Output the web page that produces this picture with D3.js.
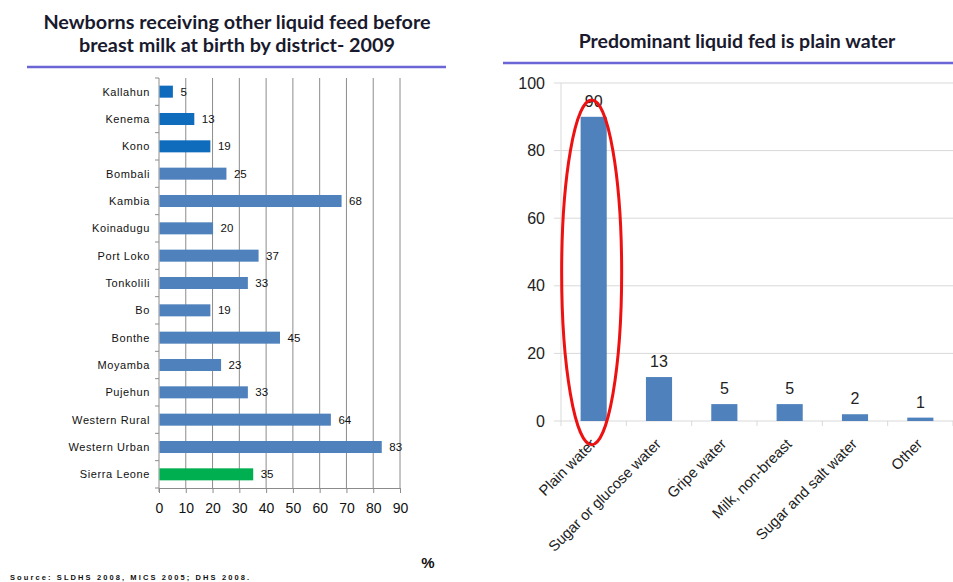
<!DOCTYPE html>
<html>
<head>
<meta charset="utf-8">
<script src="https://cdn.jsdelivr.net/npm/d3@7"></script>
<style>
  body { margin: 0; background: #fff; }
  svg { display: block; }
  .title { font-family: Lato, "Open Sans", sans-serif; font-weight: bold; fill: #1a1a2e; }
  .lbl { font-family: "Liberation Sans", Arial, sans-serif; }
</style>
</head>
<body>
<div id="chart"></div>
<script>
var width = 953, height = 582;

// left chart data
var districts = ["Kallahun", "Kenema", "Kono", "Bombali", "Kambia", "Koinadugu", "Port Loko",
                 "Tonkolili", "Bo", "Bonthe", "Moyamba", "Pujehun", "Western Rural", "Western Urban", "Sierra Leone"];
var districtValues = [5, 13, 19, 25, 68, 20, 37, 33, 19, 45, 23, 33, 64, 83, 35];
var districtGroup = ["east", "east", "east", "other", "other", "other", "other",
                     "other", "other", "other", "other", "other", "other", "other", "national"];
var xTicks = [0, 10, 20, 30, 40, 50, 60, 70, 80, 90];

// right chart data
var liquids = ["Plain water", "Sugar or glucose water", "Gripe water", "Milk, non-breast", "Sugar and salt water", "Other"];
var liquidValues = [90, 13, 5, 5, 2, 1];
var yTicks = [0, 20, 40, 60, 80, 100];

var groupColor = { east: "#0f6cbd", other: "#4f81bd", national: "#00b050" };

var svg = d3.select("#chart").append("svg")
    .attr("width", width)
    .attr("height", height);

//
// left chart
var left = svg.append("g");

left.append("text").attr("class", "title")
    .attr("x", 237).attr("y", 29)
    .attr("text-anchor", "middle").style("font-size", "19.8px")
    .text("Newborns receiving other liquid feed before");
left.append("text").attr("class", "title")
    .attr("x", 237).attr("y", 52)
    .attr("text-anchor", "middle").style("font-size", "19.8px")
    .text("breast milk at birth by district- 2009");
left.append("line")
    .attr("x1", 27).attr("x2", 446).attr("y1", 67).attr("y2", 67)
    .attr("stroke", "#6b66d6").attr("stroke-width", 2.5);

var xScale = d3.scaleLinear().domain([0, 90]).range([159, 400]);
var yBand = d3.scaleBand().domain(districts).range([78, 488]).paddingInner(0.56).paddingOuter(0.28);

// gridlines
left.selectAll(".vgrid")
  .data(xTicks.slice(1))
  .enter().append("line")
    .attr("x1", function(d) { return xScale(d); })
    .attr("x2", function(d) { return xScale(d); })
    .attr("y1", 78).attr("y2", 488)
    .attr("stroke", "#8c8c8c").attr("stroke-width", 1);

// bottom axis
var xAxis = left.append("g")
    .attr("transform", "translate(0,488)")
    .call(d3.axisBottom(xScale).tickValues(xTicks).tickSize(5).tickSizeOuter(0));
xAxis.select(".domain").attr("stroke", "#8c8c8c");
xAxis.selectAll(".tick line").attr("stroke", "#8c8c8c");
xAxis.selectAll("text")
    .attr("class", "lbl").attr("fill", "#111")
    .attr("dy", "1.2em")
    .style("font-size", "14px");

// left axis with ticks on category boundaries
var bounds = d3.range(districts.length + 1).map(function(i) { return 78 + i * (410 / districts.length); });
left.append("line")
    .attr("x1", 159).attr("x2", 159).attr("y1", 78).attr("y2", 492)
    .attr("stroke", "#8c8c8c");
left.selectAll(".ytick")
  .data(bounds)
  .enter().append("line")
    .attr("x1", 155).attr("x2", 159)
    .attr("y1", function(d) { return d; })
    .attr("y2", function(d) { return d; })
    .attr("stroke", "#8c8c8c");

left.selectAll(".bar")
  .data(districts)
  .enter().append("rect")
    .attr("x", xScale(0) + 0.5)
    .attr("y", function(d) { return yBand(d); })
    .attr("width", function(d, i) { return xScale(districtValues[i]) - xScale(0); })
    .attr("height", yBand.bandwidth())
    .attr("fill", function(d, i) { return groupColor[districtGroup[i]]; });

left.selectAll(".cat")
  .data(districts)
  .enter().append("text")
    .attr("class", "lbl")
    .attr("x", 150)
    .attr("y", function(d) { return yBand(d) + yBand.bandwidth() / 2; })
    .attr("dy", "0.35em")
    .attr("text-anchor", "end")
    .style("font-size", "11px").style("letter-spacing", "0.6px").attr("fill", "#111")
    .text(function(d) { return d; });

left.selectAll(".val")
  .data(districtValues)
  .enter().append("text")
    .attr("class", "lbl")
    .attr("x", function(d) { return xScale(d) + 8; })
    .attr("y", function(d, i) { return yBand(districts[i]) + yBand.bandwidth() / 2; })
    .attr("dy", "0.35em")
    .style("font-size", "11.5px").attr("fill", "#111")
    .text(function(d) { return d; });

left.append("text").attr("class", "lbl")
    .attr("x", 428).attr("y", 568).attr("text-anchor", "middle")
    .style("font-size", "15px").style("font-weight", "bold").attr("fill", "#111")
    .text("%");

left.append("text").attr("class", "lbl")
    .attr("x", 10).attr("y", 580)
    .style("font-size", "7.5px").style("font-weight", "bold").style("letter-spacing", "2.1px").attr("fill", "#111")
    .text("Source: SLDHS 2008, MICS 2005; DHS 2008.");

//
// right chart
var right = svg.append("g");

right.append("text").attr("class", "title")
    .attr("x", 737).attr("y", 48)
    .attr("text-anchor", "middle").style("font-size", "19.5px")
    .text("Predominant liquid fed is plain water");
right.append("line")
    .attr("x1", 503).attr("x2", 953).attr("y1", 63).attr("y2", 63)
    .attr("stroke", "#6b66d6").attr("stroke-width", 2.5);

var yScale = d3.scaleLinear().domain([0, 100]).range([421, 83]);
var xBand = d3.scaleBand().domain(liquids).range([561, 953]).paddingInner(0.6).paddingOuter(0.3);

right.selectAll(".hgrid")
  .data(yTicks)
  .enter().append("line")
    .attr("x1", 554).attr("x2", 953)
    .attr("y1", function(d) { return yScale(d); })
    .attr("y2", function(d) { return yScale(d); })
    .attr("stroke", "#d9d9d9");

right.append("line")
    .attr("x1", 561).attr("x2", 561).attr("y1", 83).attr("y2", 421)
    .attr("stroke", "#d9d9d9");

right.selectAll(".ylab")
  .data(yTicks)
  .enter().append("text")
    .attr("class", "lbl")
    .attr("x", 545)
    .attr("y", function(d) { return yScale(d); })
    .attr("dy", "0.35em")
    .attr("text-anchor", "end")
    .style("font-size", "16px").attr("fill", "#222")
    .text(function(d) { return d; });

// category boundary ticks
var step = xBand.step();
right.selectAll(".xtick")
  .data(d3.range(liquids.length + 1))
  .enter().append("line")
    .attr("x1", function(i) { return 561 + i * step; })
    .attr("x2", function(i) { return 561 + i * step; })
    .attr("y1", 421).attr("y2", 426)
    .attr("stroke", "#d9d9d9");

right.selectAll(".bar")
  .data(liquids)
  .enter().append("rect")
    .attr("x", function(d) { return xBand(d); })
    .attr("y", function(d, i) { return yScale(liquidValues[i]); })
    .attr("width", xBand.bandwidth())
    .attr("height", function(d, i) { return yScale(0) - yScale(liquidValues[i]); })
    .attr("fill", "#4f81bd");

right.selectAll(".val")
  .data(liquidValues)
  .enter().append("text")
    .attr("class", "lbl")
    .attr("x", function(d, i) { return xBand(liquids[i]) + xBand.bandwidth() / 2; })
    .attr("y", function(d) { return yScale(d) - 10; })
    .attr("text-anchor", "middle")
    .style("font-size", "16px").attr("fill", "#222")
    .text(function(d) { return d; });

right.selectAll(".cat")
  .data(liquids)
  .enter().append("text")
    .attr("class", "lbl")
    .attr("transform", function(d) {
      var cx = xBand(d) + xBand.bandwidth() / 2 + 3;
      return "translate(" + cx + ",445) rotate(-45)";
    })
    .attr("text-anchor", "end")
    .style("font-size", "14.8px").attr("fill", "#222")
    .text(function(d) { return d; });

// red highlight ellipse around the first bar
var hx = xBand(liquids[0]) + xBand.bandwidth() / 2 - 2;
var hTop = yScale(95), hBottom = yScale(-7);
right.append("ellipse")
    .attr("cx", hx)
    .attr("cy", (hTop + hBottom) / 2)
    .attr("rx", 30)
    .attr("ry", (hBottom - hTop) / 2)
    .attr("fill", "none")
    .attr("stroke", "#ee1111")
    .attr("stroke-width", 3);
</script>
</body>
</html>
